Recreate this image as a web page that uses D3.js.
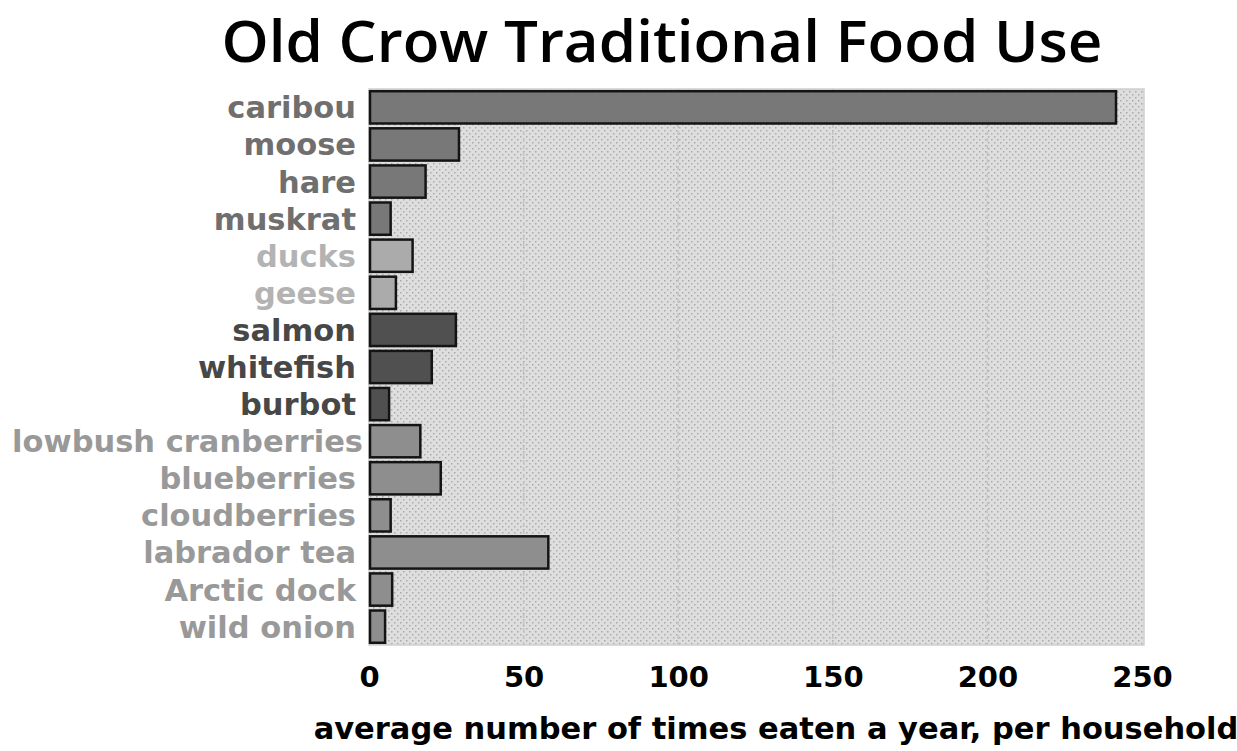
<!DOCTYPE html>
<html lang="en">
<head>
    <meta charset="UTF-8">
    <title>Old Crow Traditional Food Use</title>
    <script src="https://d3js.org/d3.v7.min.js"></script>
    <style>
        body { margin: 0; background: #fff; }
        svg { display: block; }
    </style>
</head>
<body>
    <svg width="1237" height="751"></svg>
    <script>
        // Data
        const foods = ["caribou", "moose", "hare", "muskrat", "ducks", "geese", "salmon", "whitefish",
            "burbot", "lowbush cranberries", "blueberries", "cloudberries", "labrador tea", "Arctic dock", "wild onion"];
        const timesEaten = [241.6, 29.1, 18.3, 7.0, 14.1, 8.7, 28.1, 20.3, 6.5, 16.6, 23.2, 7.0, 58.0, 7.5, 5.2];
        const foodGroup = ["mammal", "mammal", "mammal", "mammal", "bird", "bird", "fish", "fish", "fish",
            "plant", "plant", "plant", "plant", "plant", "plant"];
        const xTicks = [0, 50, 100, 150, 200, 250];

        const rows = foods.map((f, i) => ({ name: f, value: timesEaten[i], group: foodGroup[i] }));

        // group colours
        const barFill = { mammal: "#787878", bird: "#ababab", fish: "#505050", plant: "#8e8e8e" };
        const labelFill = { mammal: "#6f6f6f", bird: "#b3b3b3", fish: "#474747", plant: "#999999" };

        const svg = d3.select("svg");
        const plot = { left: 369, right: 1144, top: 89, bottom: 645 };

        const x = d3.scaleLinear().domain([0, 250]).range([369, 1142]);
        const y = d3.scaleBand().domain(foods).range([plot.top, plot.bottom])
            .paddingInner(0.13).paddingOuter(0.06);

        // dotted background pattern
        const defs = svg.append("defs");
        const pat = defs.append("pattern")
            .attr("id", "dots")
            .attr("width", 6).attr("height", 6)
            .attr("patternUnits", "userSpaceOnUse");
        pat.append("rect").attr("width", 6).attr("height", 6).attr("fill", "#dedede");
        pat.append("rect").attr("x", 1).attr("y", 1).attr("width", 1.5).attr("height", 1.5).attr("fill", "#ababab");
        pat.append("rect").attr("x", 4).attr("y", 4).attr("width", 1.5).attr("height", 1.5).attr("fill", "#ababab");

        svg.append("rect")
            .attr("x", plot.left).attr("y", plot.top)
            .attr("width", plot.right - plot.left).attr("height", plot.bottom - plot.top)
            .attr("fill", "url(#dots)")
            .attr("stroke", "#cfcfcf")
            .attr("stroke-width", 1.5);

        // dashed gridlines
        svg.append("g")
            .selectAll("line")
            .data(xTicks.slice(1, -1))
            .enter().append("line")
            .attr("x1", d => x(d)).attr("x2", d => x(d))
            .attr("y1", plot.top).attr("y2", plot.bottom)
            .attr("stroke", "#c4c4c4")
            .attr("stroke-width", 1.5)
            .attr("stroke-dasharray", "4,3");

        // bars
        svg.append("g")
            .selectAll("rect")
            .data(rows)
            .enter().append("rect")
            .attr("x", x(0) + 1)
            .attr("y", d => y(d.name))
            .attr("width", d => x(d.value) - x(0) - 1)
            .attr("height", y.bandwidth())
            .attr("fill", d => barFill[d.group])
            .attr("stroke", "#141414")
            .attr("stroke-width", 2.5);

        // category labels
        svg.append("g")
            .selectAll("text")
            .data(rows)
            .enter().append("text")
            .attr("x", d => d.name === "lowbush cranberries" ? 363 : 356)
            .attr("y", d => y(d.name) + y.bandwidth() / 2)
            .attr("dy", "0.36em")
            .attr("text-anchor", "end")
            .attr("font-family", "'DejaVu Sans', sans-serif")
            .attr("font-weight", "bold")
            .attr("font-size", 30.5)
            .attr("fill", d => labelFill[d.group])
            .text(d => d.name);

        // x axis
        const xAxis = svg.append("g")
            .attr("transform", `translate(0,${plot.bottom})`)
            .call(d3.axisBottom(x).tickValues(xTicks).tickSize(0).tickPadding(21).tickFormat(d3.format("d")));
        xAxis.select(".domain").remove();
        xAxis.selectAll("text")
            .attr("font-family", "'DejaVu Sans', sans-serif")
            .attr("font-weight", "bold")
            .attr("font-size", 29)
            .attr("fill", "#000");

        // axis title
        svg.append("text")
            .attr("x", 776)
            .attr("y", 739)
            .attr("text-anchor", "middle")
            .attr("font-family", "'DejaVu Sans', sans-serif")
            .attr("font-weight", "bold")
            .attr("font-size", 30.5)
            .attr("fill", "#000")
            .text("average number of times eaten a year, per household");

        // title
        svg.append("text")
            .attr("x", 662)
            .attr("y", 62)
            .attr("text-anchor", "middle")
            .attr("font-family", "'Comic Sans MS', 'Open Sans', sans-serif")
            .attr("font-weight", 600)
            .attr("font-size", 58)
            .attr("textLength", 881)
            .attr("lengthAdjust", "spacingAndGlyphs")
            .attr("fill", "#000")
            .text("Old Crow Traditional Food Use");
    </script>
</body>
</html>
